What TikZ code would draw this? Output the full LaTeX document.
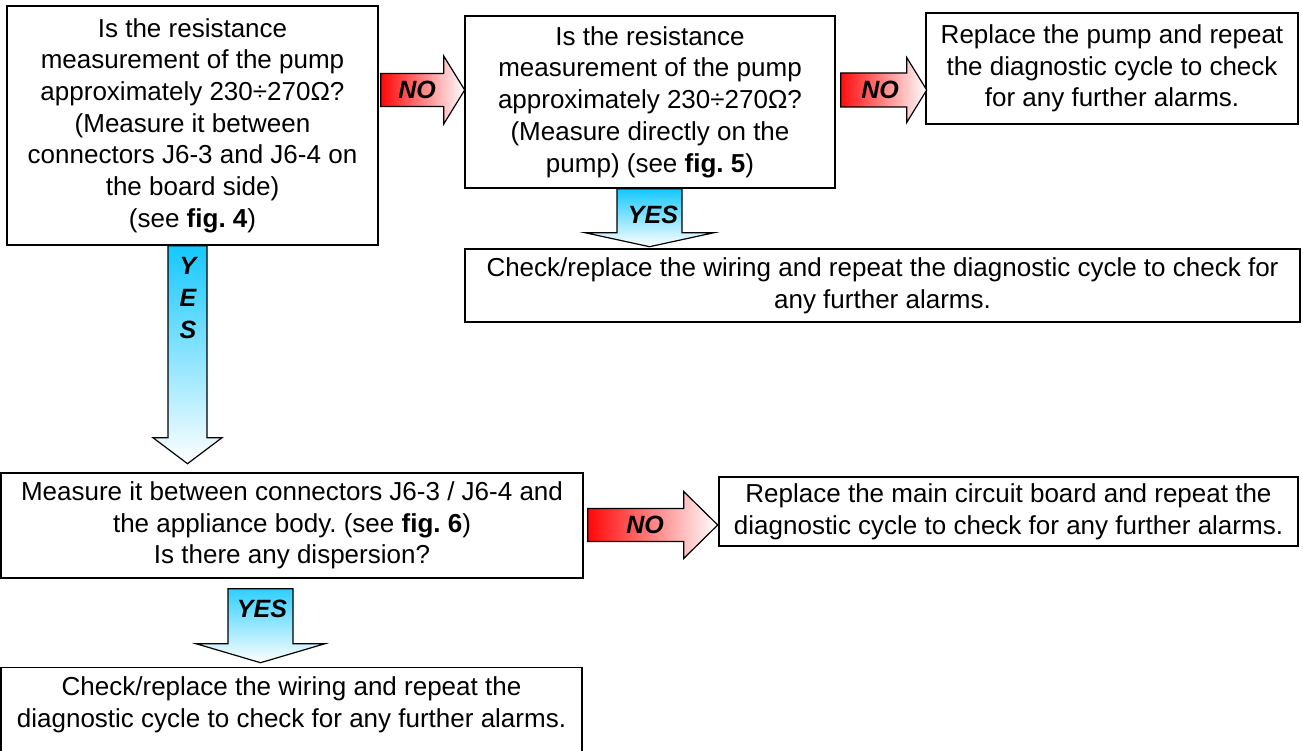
\documentclass[tikz,border=0pt]{standalone}
\usepackage{fontspec}
\setmainfont{Liberation Sans}
\usetikzlibrary{calc}
\definecolor{nored}{RGB}{255,0,0}
\definecolor{yescyan}{RGB}{20,200,255}
\frenchspacing

\begin{document}
\begin{tikzpicture}[x=1pt,y=-1pt,
  box/.style={draw, line width=1.4pt, align=center, inner sep=0pt, font=\fontsize{26}{31.7}\selectfont},
  noarrow/.style={draw, line width=1.2pt, left color=nored, right color=white},
  yesarrow/.style={draw, line width=1.2pt, top color=yescyan, bottom color=white},
  answer/.style={inner sep=0pt, align=center, font=\fontsize{25}{32}\selectfont\bfseries\itshape}]
\useasboundingbox (0,0) rectangle (1303,751);

\node[box, minimum width=371, minimum height=239] (qa) at (192.5,125.5) {Is the resistance\\measurement of the pump\\approximately 230÷270Ω?\\(Measure it between\\connectors J6-3 and J6-4 on\\the board side)\\(see \textbf{fig. 4})}; %first check
\node[box, minimum width=370, minimum height=172] (qb) at (650,102) {Is the resistance\\measurement of the pump\\approximately 230÷270Ω?\\(Measure directly on the\\pump) (see \textbf{fig. 5})}; %check on pump
\node[box, minimum width=372, minimum height=111] (rpump) at (1112,68.5) {Replace the pump and repeat\\the diagnostic cycle to check\\for any further alarms.};
\node[box, minimum width=835, minimum height=73] (rwire) at (882.5,285.5) {Check/replace the wiring and repeat the diagnostic cycle to check for\\any further alarms.};
\node[box, minimum width=582, minimum height=105] (qe) at (292,525.5) {Measure it between connectors J6-3 / J6-4 and\\the appliance body. (see \textbf{fig. 6})\\Is there any dispersion?}; %dispersion check
\node[box, minimum width=579, minimum height=69] (rboard) at (1008.5,511.5) {Replace the main circuit board and repeat the\\diagnostic cycle to check for any further alarms.};
\node[box, anchor=north, minimum width=581, inner sep=9pt, text depth=40pt] (rwire2) at (291.5,667) {Check/replace the wiring and repeat the\\diagnostic cycle to check for any further alarms.};

% NO arrows
\draw[noarrow] (qa.east |- 0,90) ++(2,0) ++(0,-16.5) -- ++(63,0) -- ++(0,-17.5) -- ++(21,34) -- ++(-21,34) -- ++(0,-17.5) -- ++(-63,0) -- cycle;
\draw[noarrow] (qb.east |- 0,90) ++(5,0) ++(0,-17) -- ++(66,0) -- ++(0,-15.5) -- ++(20,32.5) -- ++(-20,32.5) -- ++(0,-15.5) -- ++(-66,0) -- cycle;
\draw[noarrow] (qe.east |- 0,525) ++(4,0) ++(0,-16.5) -- ++(96,0) -- ++(0,-17) -- ++(34,33.5) -- ++(-34,33.5) -- ++(0,-17) -- ++(-96,0) -- cycle;
\node[answer] (lno1) at (417,90) {NO};
\node[answer] (lno2) at (880,90) {NO};
\node[answer] (lno3) at (645,525) {NO};

% YES arrows
\draw[yesarrow] (qa.south -| 187.5,0) ++(-19.5,0) -- ++(0,192) -- ++(-15,0) -- ++(34.5,26) -- ++(34.5,-26) -- ++(-15,0) -- ++(0,-192) -- cycle;
\draw[yesarrow] (qb.south -| 649.5,0) ++(-32.5,0) -- ++(0,44) -- ++(-32,0) -- ++(64.5,14) -- ++(64.5,-14) -- ++(-32,0) -- ++(0,-44) -- cycle;
\draw[yesarrow] (qe.south -| 260.5,0) ++(0,10) ++(-32.5,0) -- ++(0,55) -- ++(-32,0) -- ++(64.5,19) -- ++(64.5,-19) -- ++(-32,0) -- ++(0,-55) -- cycle;
\node[answer] (lyes1) at (188,298) {Y\\E\\S};
\node[answer] (lyes2) at (653,215) {YES};
\node[answer] (lyes3) at (262,609) {YES};
\end{tikzpicture}
\end{document}
